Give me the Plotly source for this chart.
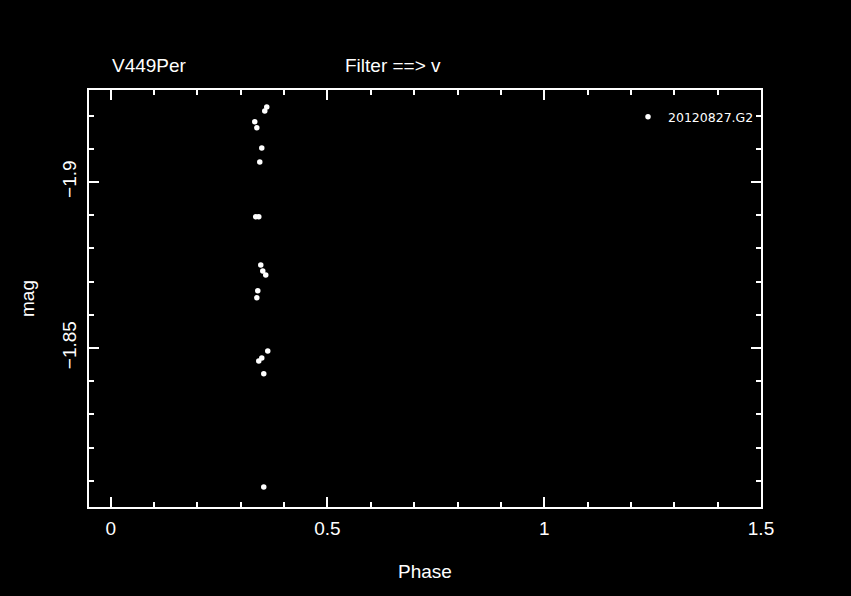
import plotly.graph_objects as go

phase = [0.360, 0.3554, 0.3323, 0.3370, 0.3485, 0.3439, 0.3346, 0.3416, 0.3462,
         0.3508, 0.3577, 0.3393, 0.3370, 0.3623, 0.3485, 0.3416, 0.3531, 0.3531]
mag = [-1.9226, -1.9214, -1.9181, -1.9163, -1.9102, -1.9060, -1.8895, -1.8895, -1.8750,
       -1.8732, -1.8720, -1.8672, -1.8651, -1.8491, -1.8470, -1.8461, -1.8422, -1.8081]
series_name = "20120827.G2"
star = "V449Per"
filt = "Filter ==> v"

FONT = "Liberation Sans"

fig = go.Figure()
fig.add_trace(go.Scatter(x=phase, y=mag, mode="markers", name=series_name,
                         marker=dict(color="white", size=5.5, line=dict(width=0))))

axis_common = dict(showgrid=False, zeroline=False, showline=True, linecolor="white",
                   linewidth=2, mirror="ticks", ticks="inside", tickcolor="white",
                   tickwidth=2, ticklen=10,
                   tickfont=dict(family=FONT, size=19, color="white"))

fig.update_xaxes(range=[-0.05, 1.5], dtick=0.5, tick0=0, ticklabelstandoff=3,
                 minor=dict(dtick=0.1, ticklen=5, tickwidth=2, tickcolor="white", ticks="inside"),
                 title=dict(text="Phase", font=dict(family=FONT, size=19, color="white"), standoff=27),
                 **axis_common)
fig.update_yaxes(range=[-1.8021, -1.9277], dtick=0.05, tick0=-1.9, tickangle=-90,
                 ticklabelstandoff=3,
                 minor=dict(dtick=0.01, ticklen=5, tickwidth=2, tickcolor="white", ticks="inside"),
                 title=dict(text="mag", font=dict(family=FONT, size=19, color="white"), standoff=20),
                 **axis_common)

fig.add_annotation(text=star, xref="paper", yref="paper", x=(110-89)/672, y=1 + (90-66)/417,
                   xanchor="left", yanchor="middle", showarrow=False,
                   font=dict(family=FONT, size=19, color="white"))
fig.add_annotation(text=filt, xref="paper", yref="paper", x=(343-89)/672, y=1 + (90-66)/417,
                   xanchor="left", yanchor="middle", showarrow=False,
                   font=dict(family=FONT, size=19, color="white"))

fig.update_layout(width=851, height=596, paper_bgcolor="black", plot_bgcolor="black",
                  margin=dict(l=89, r=90, t=90, b=89),
                  showlegend=True,
                  legend=dict(x=(628-89)/672, y=1 - (102-90)/417, xanchor="left", yanchor="top",
                              bgcolor="rgba(0,0,0,0)",
                              font=dict(family="DejaVu Sans", size=12.5, color="white"),
                              itemwidth=30, tracegroupgap=0))

fig.write_html("out.html", config={"displayModeBar": False},
               post_script="document.body.style.margin='0';document.body.style.background='black';")
